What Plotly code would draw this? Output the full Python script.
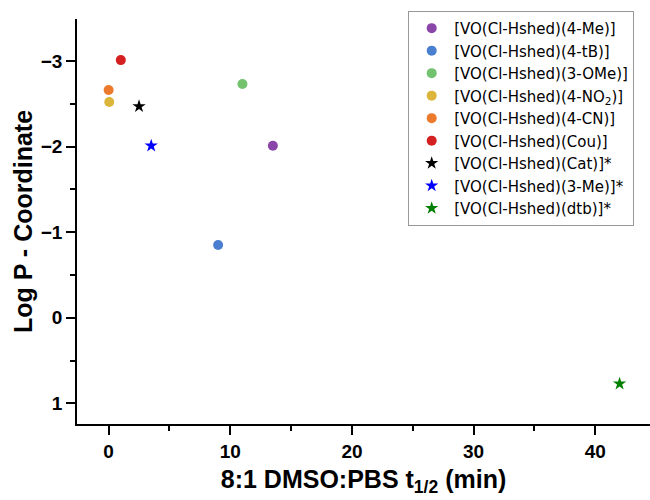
import plotly.graph_objects as go

names = ["[VO(Cl-Hshed)(4-Me)]", "[VO(Cl-Hshed)(4-tB)]", "[VO(Cl-Hshed)(3-OMe)]",
         "[VO(Cl-Hshed)(4-NO<sub>2</sub>)]", "[VO(Cl-Hshed)(4-CN)]", "[VO(Cl-Hshed)(Cou)]",
         "[VO(Cl-Hshed)(Cat)]*", "[VO(Cl-Hshed)(3-Me)]*", "[VO(Cl-Hshed)(dtb)]*"]
half_life = [13.5, 9.0, 11.0, 0.05, 0.0, 1.0, 2.5, 3.5, 42.0]
log_p = [-2.01, -0.85, -2.73, -2.52, -2.66, -3.01, -2.47, -2.01, 0.77]
colors = ["#8a45a8", "#4a7fd0", "#72c26e", "#dbb63a", "#ec7a2c", "#d42020", "#000000", "#0000ff", "#008000"]
symbols = ["circle"] * 6 + ["star"] * 3

font_family = "Arial, Liberation Sans, sans-serif"
legend_family = "DejaVu Sans, Arial, sans-serif"

fig = go.Figure()
for n, x, y, c, s in zip(names, half_life, log_p, colors, symbols):
    fig.add_trace(go.Scatter(
        x=[x], y=[y], mode="markers", name=n,
        marker=dict(color=c, symbol=s, size=10, line=dict(width=0)),
    ))

axis_common = dict(
    showline=True, linecolor="black", linewidth=1.5, mirror=False,
    ticks="outside", ticklen=9, tickwidth=1.5, tickcolor="black",
    showgrid=False, zeroline=False,
    tickfont=dict(family=font_family, size=19, color="black", weight="bold"),
)
minor_common = dict(ticks="outside", ticklen=5, tickwidth=1.5, tickcolor="black")
title_font = dict(family=font_family, size=25, color="black", weight="bold")

fig.update_layout(
    width=650, height=500,
    margin=dict(l=77, r=0, t=19, b=76),
    paper_bgcolor="white", plot_bgcolor="white",
    font=dict(family=font_family, color="black"),
    xaxis=dict(range=[-2.6, 44.5], tickvals=[0, 10, 20, 30, 40],
               minor=dict(dtick=5, tick0=0, **minor_common),
               title=dict(text="8:1 DMSO:PBS t<sub>1/2</sub> (min)", font=title_font, standoff=10),
               **axis_common),
    yaxis=dict(range=[1.24, -3.49], tickvals=[-3, -2, -1, 0, 1],
               ticktext=["\u22123", "\u22122", "\u22121", "0", "1"],
               minor=dict(dtick=0.5, tick0=0, **minor_common),
               **axis_common),
    annotations=[dict(text="Log P - Coordinate", xref="paper", yref="paper",
                      x=-0.095, y=0.5, xanchor="center", yanchor="middle",
                      textangle=-90, showarrow=False, font=title_font)],
    legend=dict(x=0.578, y=1.02, xanchor="left", yanchor="top",
                bordercolor="#999999", borderwidth=1, bgcolor="white",
                font=dict(family=legend_family, size=15, color="black"),
                itemwidth=35, tracegroupgap=0),
    showlegend=True,
)

fig.write_html("out.html")
